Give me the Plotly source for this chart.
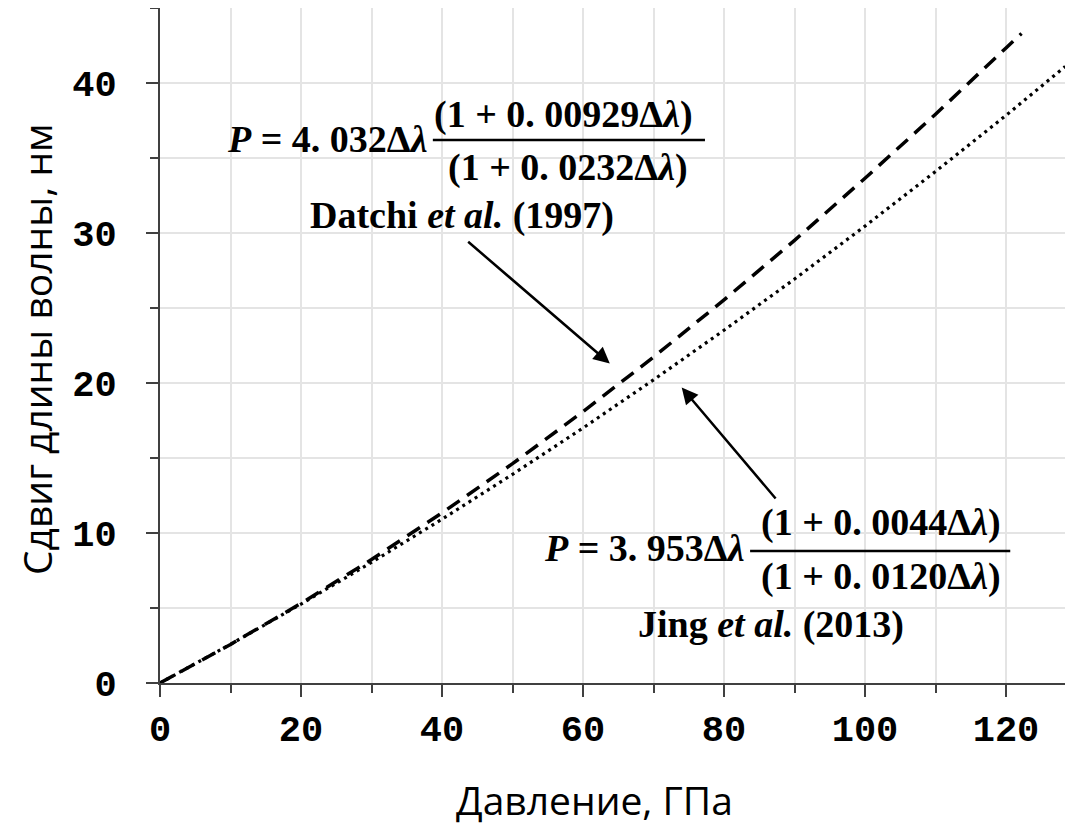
import plotly.graph_objects as go

# Pressure, GPa (x) vs wavelength shift, nm (y)
datchi_p = [0, 10, 20, 30, 40, 50, 60, 70, 80, 90, 100, 110, 120, 122.2]
datchi_dl = [0, 2.57, 5.31, 8.23, 11.34, 14.62, 18.09, 21.73, 25.54, 29.51, 33.65, 37.92, 42.34, 43.3]

jing_p = [0, 10, 20, 30, 40, 50, 60, 70, 80, 90, 100, 110, 120, 128.4]
jing_dl = [0, 2.58, 5.26, 8.04, 10.92, 13.91, 17.00, 20.21, 23.52, 26.93, 30.46, 34.10, 37.84, 41.1]

x_title = "Давление, ГПа"
y_title = "Сдвиг длины волны, нм"

SERIF = "Liberation Serif"
TXT = dict(family=SERIF, size=38, color="black", weight="bold")
TITLE_FONT = dict(family="Open Sans", size=39, color="black")

fig = go.Figure()
fig.add_trace(go.Scatter(x=datchi_p, y=datchi_dl, mode="lines",
                         line=dict(color="black", width=3.5, dash="15px,9px"),
                         name="Datchi et al. (1997)"))
fig.add_trace(go.Scatter(x=jing_p, y=jing_dl, mode="lines",
                         line=dict(color="black", width=3.2, dash="3px,4.3px"),
                         name="Jing et al. (2013)"))

axis_common = dict(
    showline=True, linecolor="#404040", linewidth=2,
    ticks="outside", tickcolor="#404040", tickwidth=2, ticklen=12,
    showgrid=True, gridcolor="#e4e4e4", gridwidth=1.5,
    zeroline=False, automargin=False,
    tickfont=dict(family="Liberation Mono", size=37, color="black", weight="bold"),
)

fig.update_xaxes(range=[0, 129.5], dtick=20, tick0=0,
                 minor=dict(dtick=10, ticks="outside", ticklen=8, tickcolor="#404040",
                            tickwidth=2, showgrid=True, gridcolor="#e4e4e4", gridwidth=1.5),
                 ticklabelstandoff=0,
                 **axis_common)
fig.update_yaxes(range=[0, 45], dtick=10, tick0=0,
                 minor=dict(dtick=5, ticks="outside", ticklen=8, tickcolor="#404040",
                            tickwidth=2, showgrid=True, gridcolor="#e4e4e4", gridwidth=1.5),
                 ticklabelstandoff=22,
                 **axis_common)

# axis titles
fig.add_annotation(x=0.4759, y=-0.1733, xref="paper", yref="paper", text=x_title,
                   showarrow=False, xanchor="center", yanchor="middle", font=TITLE_FONT)
fig.add_annotation(x=-0.1358, y=0.4948, xref="paper", yref="paper", text=y_title,
                   showarrow=False, xanchor="center", yanchor="middle", textangle=-90,
                   font=TITLE_FONT)

def txt(x, y, text, xanchor="center"):
    fig.add_annotation(x=x, y=y, xref="x", yref="y", text=text, showarrow=False,
                       xanchor=xanchor, yanchor="middle", font=TXT)

# Datchi formula
txt(38.3, 36.3, "<i>P</i> = 4. 032Δ<i>λ</i>", xanchor="right")
txt(57.2, 37.9, "(1 + 0. 00929Δ<i>λ</i>)")
txt(57.8, 34.4, "(1 + 0. 0232Δ<i>λ</i>)")
fig.add_shape(type="line", xref="x", yref="y", x0=38.7, x1=77.3, y0=36.2, y1=36.2,
              line=dict(color="black", width=2.5))
txt(42.8, 31.2, "Datchi <i>et al.</i> (1997)")

# Jing formula
txt(83.3, 9.0, "<i>P</i> = 3. 953Δ<i>λ</i>", xanchor="right")
txt(102.2, 10.73, "(1 + 0. 0044Δ<i>λ</i>)")
txt(102.3, 7.13, "(1 + 0. 0120Δ<i>λ</i>)")
fig.add_shape(type="line", xref="x", yref="y", x0=83.7, x1=120.6, y0=8.8, y1=8.8,
              line=dict(color="black", width=2.5))
txt(86.6, 3.87, "Jing <i>et al.</i> (2013)")

# arrows
for tip, tail in [((63.8, 21.3), (43.5, 29.5)), ((74.0, 19.7), (87.5, 12.2))]:
    fig.add_annotation(x=tip[0], y=tip[1], ax=tail[0], ay=tail[1], xref="x", yref="y",
                       axref="x", ayref="y", text="", showarrow=True, arrowhead=2,
                       arrowsize=1.3, arrowwidth=2.5, arrowcolor="black", standoff=0)

# the page body adds an 8px offset, so the figure is sized to fill the rest of the window
fig.update_layout(
    width=1065, height=820,
    margin=dict(l=152, r=0, t=0, b=145),
    paper_bgcolor="white", plot_bgcolor="white",
    showlegend=False,
)

fig.write_html("out.html")
